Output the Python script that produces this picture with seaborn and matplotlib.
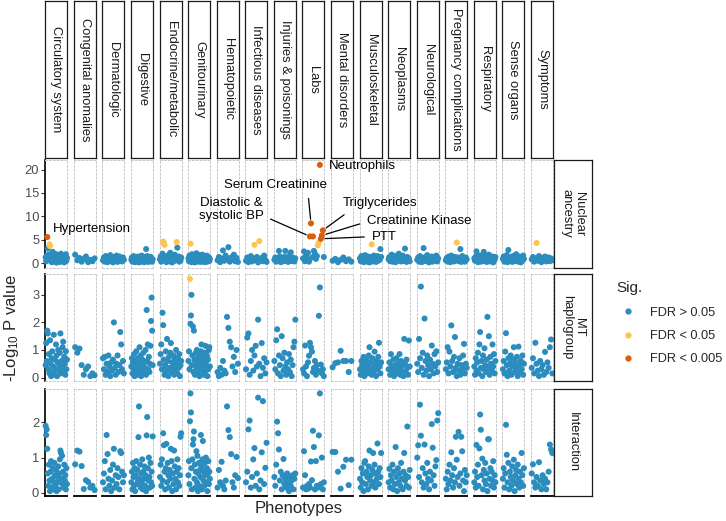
import numpy as np
import pandas as pd
import matplotlib
matplotlib.use('Agg')
import matplotlib.pyplot as plt
from matplotlib.lines import Line2D
from matplotlib.ticker import MultipleLocator
import seaborn as sns

# Phenotype categories (facet columns) and models (facet rows)
categories = ['Circulatory system', 'Congenital anomalies', 'Dermatologic', 'Digestive',
              'Endocrine/metabolic', 'Genitourinary', 'Hematopoietic', 'Infectious diseases',
              'Injuries & poisonings', 'Labs', 'Mental disorders', 'Musculoskeletal',
              'Neoplasms', 'Neurological', 'Pregnancy complications', 'Respiratory',
              'Sense organs', 'Symptoms']
models = ['Nuclear\nancestry', 'MT\nhaplogroup', 'Interaction']

# -log10 p per phenotype, one inner list per category, same phenotype order in every model
nuclear = [
    [1.2, 0.4, 1.6, 5.57, 3.1, 0.9, 1.8, 4.0, 3.65, 0.5, 1.3, 0.2, 1.0, 2.4, 0.7, 1.5, 0.3, 1.1, 0.6, 1.9,
     0.1, 0.8, 1.4, 0.45, 1.7, 0.9, 0.25, 1.2, 2.0, 0.6, 1.0, 0.35, 1.55, 0.8, 0.15, 1.25, 0.7, 1.9, 0.5, 1.1],
    [1.8, 0.6, 1.1, 0.3, 0.9, 1.4, 0.2, 0.7, 0.4, 1.0],
    [0.6, 1.2, 0.3, 1.5, 0.9, 0.2, 1.1, 0.7, 1.7, 0.4, 1.0, 0.15, 1.3, 0.8, 0.5, 1.6, 0.25, 0.9, 1.4, 0.6,
     1.1, 0.35, 1.2, 0.7],
    [0.7, 1.2, 0.3, 0.9, 1.5, 0.5, 1.1, 0.2, 0.8, 1.3, 0.4, 1.0, 0.6, 1.4, 0.15, 0.9, 1.2, 0.5, 0.75, 1.6,
     0.3, 1.0, 0.55, 1.3, 0.2, 0.85, 1.1, 3.0, 0.45, 1.5, 0.7, 0.25, 1.2, 0.9, 0.4, 1.35, 0.6, 1.0, 0.3, 0.8],
    [0.8, 1.4, 0.3, 1.1, 2.0, 4.6, 4.3, 3.9, 0.6, 1.3, 0.2, 0.9, 1.6, 0.5, 1.2, 0.35, 2.2, 0.7, 1.0, 0.15,
     1.5, 0.8, 0.45, 1.8, 0.6, 1.1, 4.5, 3.3, 0.9, 1.4, 0.3, 1.0, 0.55, 1.2],
    [1.0, 0.4, 1.6, 0.8, 4.15, 1.3, 0.2, 1.9, 0.7, 1.1, 0.35, 1.5, 0.9, 0.15, 1.2, 0.6, 2.1, 0.45, 1.0, 1.4,
     0.3, 0.85, 1.7, 0.5, 1.1, 0.25, 1.3, 0.75, 1.8, 0.4, 1.0, 0.6, 1.45, 0.2, 0.9, 1.2, 0.55, 1.6, 0.3, 1.0,
     0.7, 1.25, 0.45, 0.9],
    [0.6, 1.3, 0.2, 1.0, 2.7, 0.5, 1.6, 0.9, 3.4, 0.3, 1.2, 0.7, 1.8, 0.4, 1.1, 0.25],
    [0.5, 1.2, 0.2, 0.9, 1.5, 0.35, 1.0, 3.9, 0.6, 1.3, 0.15, 4.7, 0.8, 1.1, 0.4, 1.6, 0.7, 0.25],
    [0.7, 1.2, 0.3, 1.0, 0.5, 2.6, 1.4, 0.2, 0.9, 1.1, 0.4, 1.3, 2.6, 0.6, 1.0, 0.25, 1.5, 0.8, 2.3, 0.45,
     1.2, 0.7, 0.35, 1.0],
    [1.0, 2.5, 0.4, 1.6, 0.8, 2.2, 0.3, 5.7, 8.5, 1.2, 5.7, 2.6, 2.0, 0.9, 1.5, 3.8, 4.4, 21.0, 5.2, 5.9,
     7.0, 1.3],
    [0.5, 0.9, 0.2, 0.7, 1.2, 0.4, 0.8, 0.3],
    [1.0, 0.4, 1.5, 0.7, 1.2, 0.2, 0.9, 1.7, 0.5, 1.1, 0.3, 1.4, 0.8, 0.15, 1.3, 0.6, 4.0, 1.0, 0.35, 1.6,
     0.8, 1.2, 0.25, 0.9, 1.5, 0.5, 1.1, 0.7, 3.0, 1.3],
    [0.8, 1.3, 0.4, 1.0, 1.8, 0.3, 1.1, 0.6, 1.5, 0.2, 0.9, 1.4, 0.5, 2.0, 0.7, 1.2, 0.35, 1.0, 1.6, 0.45,
     1.1, 3.1, 0.8, 0.25, 1.3, 0.6, 1.0, 0.4],
    [0.7, 1.2, 0.3, 1.5, 0.9, 0.2, 1.1, 3.2, 0.6, 1.3, 0.4, 1.7, 0.8, 0.15, 1.0, 0.5, 1.4, 0.3, 0.9, 1.2,
     0.6, 1.6, 0.35, 1.0],
    [0.6, 1.1, 0.3, 1.4, 0.8, 0.2, 1.6, 0.5, 1.0, 0.35, 1.3, 0.7, 4.4, 1.2, 0.4, 0.9, 3.0, 0.25, 1.5, 0.6,
     1.0, 0.3, 1.2, 0.8],
    [1.0, 0.5, 1.4, 2.5, 0.8, 0.2, 1.2, 0.6, 1.6, 0.3, 1.0, 0.7, 1.3, 2.4, 0.4, 0.9, 1.5, 0.25, 1.1, 0.6,
     1.8, 0.35, 0.9, 1.2, 0.5, 1.4, 0.15, 1.0, 0.7, 1.3],
    [0.9, 1.4, 0.3, 1.1, 0.6, 1.7, 0.2, 2.8, 1.0, 0.5, 1.3, 0.8, 0.25, 1.5, 0.7, 1.1, 0.4, 1.9, 0.6, 1.0,
     0.3, 1.4, 0.8, 0.15, 1.2, 0.5, 1.6, 0.9],
    [0.8, 1.3, 0.3, 1.0, 4.3, 0.5, 1.5, 0.7, 0.2, 1.1, 0.6, 1.4, 0.35, 0.9, 1.2, 0.4, 1.0, 0.6],
]

mt = [
    [0.45, 1.25, 0.6, 1.7, 1.6, 0.3, 0.85, 0.15, 1.35, 0.5, 0.05, 0.7, 0.95, 0.2, 0.4, 1.55, 0.1, 0.65, 0.3, 1.2,
     0.8, 0.05, 0.55, 1.0, 0.25, 0.45, 0.9, 1.6, 0.15, 0.6, 0.35, 1.1, 1.3, 0.2, 0.75, 0.5, 0.1, 0.95, 0.3, 0.65],
    [1.1, 0.9, 1.05, 0.45, 0.1, 0.3, 0.4, 0.05, 0.15, 0.08],
    [0.7, 0.3, 0.75, 0.1, 0.5, 0.2, 0.8, 0.4, 0.05, 0.55, 0.25, 0.65, 2.0, 0.35, 0.1, 0.5, 0.8, 0.2, 0.45, 1.65,
     1.2, 0.3, 0.6, 0.15],
    [0.4, 0.7, 0.15, 0.55, 0.3, 0.85, 0.05, 0.6, 0.25, 0.95, 0.45, 0.1, 0.7, 0.35, 0.2, 1.1, 0.5, 0.8, 0.05, 0.4,
     0.65, 0.25, 0.9, 0.15, 0.55, 0.35, 1.0, 0.1, 2.45, 0.6, 1.2, 0.3, 0.75, 0.2, 0.5, 1.15, 2.05, 2.9, 1.7, 0.45],
    [0.5, 0.85, 1.2, 0.3, 2.35, 1.9, 0.65, 0.1, 0.45, 0.95, 0.25, 1.4, 0.6, 0.05, 0.75, 0.35, 0.9, 1.25, 0.2, 0.55,
     0.4, 0.8, 0.1, 0.65, 0.3, 1.0, 0.5, 0.15, 0.7, 0.35, 0.85, 0.05, 0.45, 0.6],
    [0.6, 0.95, 0.3, 3.58, 1.95, 2.25, 3.0, 0.45, 0.8, 1.85, 0.2, 1.7, 0.65, 0.1, 0.5, 0.9, 0.35, 1.0, 0.15, 0.7,
     0.4, 0.85, 0.05, 0.55, 0.3, 0.95, 1.2, 0.25, 0.6, 0.75, 0.1, 0.45, 0.9, 0.2, 1.15, 0.5, 0.35, 0.8, 0.05, 0.65,
     0.3, 1.0, 1.1, 0.4],
    [0.2, 0.05, 0.35, 0.1, 0.6, 0.25, 0.15, 2.2, 1.8, 1.3, 1.1, 0.4, 0.75, 0.2, 1.0, 0.5],
    [0.3, 1.45, 1.6, 0.1, 0.6, 1.0, 0.25, 0.8, 1.15, 0.4, 2.1, 0.5, 0.05, 1.25, 0.35, 0.7, 0.15, 0.55],
    [0.6, 0.3, 1.35, 1.75, 0.15, 0.8, 0.45, 0.05, 1.5, 0.7, 0.25, 0.9, 0.4, 0.1, 0.55, 0.3, 0.85, 0.2, 0.65, 0.05,
     0.45, 1.1, 1.3, 2.1],
    [0.3, 0.15, 1.16, 0.4, 0.05, 0.55, 0.79, 1.26, 1.1, 0.94, 0.2, 0.35, 0.6, 0.1, 0.45, 0.25, 2.24, 3.27, 0.47, 0.15,
     0.3, 0.05],
    [0.37, 0.52, 0.55, 0.97, 0.6, 0.6, 0.2, 0.6],
    [0.3, 0.1, 0.6, 0.45, 0.2, 0.75, 0.05, 0.5, 0.3, 0.65, 0.15, 0.4, 0.8, 1.1, 0.25, 0.55, 0.1, 0.7, 0.35, 0.2,
     0.94, 0.45, 0.05, 0.6, 0.3, 0.75, 1.26, 0.4, 0.15, 0.55],
    [0.3, 0.55, 0.1, 0.85, 0.4, 0.2, 0.65, 0.05, 0.45, 0.3, 0.7, 0.15, 0.5, 0.35, 0.85, 0.1, 0.6, 0.25, 0.45, 0.05,
     1.4, 0.5, 0.2, 0.65, 0.35, 0.1, 1.34, 0.4],
    [0.5, 0.2, 1.4, 0.7, 3.3, 0.35, 0.9, 0.1, 2.14, 0.6, 0.25, 0.8, 0.45, 0.05, 0.65, 0.3, 1.16, 0.5, 0.15, 0.85,
     0.4, 0.95, 0.2, 0.55],
    [0.3, 0.55, 1.1, 0.15, 0.94, 0.4, 1.89, 0.6, 0.2, 0.75, 1.47, 0.35, 0.05, 0.5, 0.25, 0.7, 0.1, 0.45, 0.3, 0.8,
     1.22, 0.15, 0.5, 0.35],
    [0.4, 0.1, 0.7, 0.25, 0.55, 0.9, 0.15, 1.2, 1.65, 0.35, 0.6, 0.05, 0.8, 0.3, 1.06, 0.45, 0.2, 0.65, 2.2, 0.35,
     1.5, 0.1, 0.75, 0.5, 0.25, 1.2, 0.4, 0.85, 0.15, 0.6],
    [0.3, 0.6, 0.15, 0.94, 1.61, 0.45, 0.05, 0.7, 0.25, 0.5, 0.8, 0.1, 0.4, 0.65, 1.1, 0.2, 0.55, 0.35, 0.75, 0.05,
     1.12, 0.45, 0.2, 0.6, 0.3, 0.8, 0.1, 0.5],
    [0.35, 0.7, 0.15, 1.26, 0.5, 0.25, 0.05, 0.6, 0.3, 0.45, 0.1, 0.93, 0.2, 0.55, 0.35, 1.1, 1.38, 0.15],
]

interaction = [
    [1.9, 1.64, 1.8, 1.25, 0.55, 0.2, 0.8, 0.35, 0.05, 0.6, 0.9, 0.15, 0.4, 0.7, 0.1, 0.3, 0.85, 0.5, 0.2, 0.65,
     0.05, 0.45, 0.3, 0.75, 0.1, 0.55, 0.95, 1.2, 1.13, 0.4, 1.05, 0.25, 0.6, 0.15, 0.8, 0.35, 0.5, 0.1, 0.7, 0.25],
    [0.81, 1.2, 1.17, 0.76, 0.11, 0.36, 0.31, 0.15, 0.2, 0.08],
    [0.3, 0.55, 0.9, 0.1, 1.64, 1.1, 0.4, 0.2, 0.65, 0.05, 0.35, 0.8, 1.25, 0.15, 0.5, 0.25, 0.7, 0.45, 0.1, 1.18,
     1.13, 0.6, 0.3, 0.5],
    [0.3, 0.6, 0.1, 0.85, 0.45, 0.2, 0.7, 0.05, 0.5, 0.9, 0.25, 0.65, 0.35, 1.58, 2.45, 0.4, 0.8, 0.15, 0.55, 0.3,
     0.95, 0.1, 0.6, 0.4, 0.75, 0.2, 0.5, 0.05, 1.63, 2.15, 0.7, 0.35, 1.0, 0.45, 0.15, 0.85, 0.3, 0.6, 0.2, 1.6],
    [0.45, 0.8, 0.2, 0.95, 0.35, 1.69, 1.35, 0.6, 0.1, 0.7, 1.39, 0.3, 0.85, 0.5, 0.15, 0.65, 0.4, 1.25, 0.9, 0.05,
     0.55, 0.25, 1.2, 0.75, 0.4, 0.1, 0.6, 0.95, 0.3, 0.7, 0.2, 0.5, 1.59, 1.69],
    [0.5, 0.9, 0.25, 2.03, 2.82, 2.28, 0.7, 0.1, 0.95, 1.37, 1.52, 1.74, 0.4, 0.8, 0.15, 0.6, 1.18, 0.3, 1.05, 0.05,
     0.55, 0.85, 0.2, 0.65, 0.45, 1.64, 0.75, 0.1, 0.95, 1.47, 0.35, 0.6, 0.2, 0.85, 0.5, 1.0, 0.3, 0.7, 0.05, 0.55,
     0.9, 0.25, 0.6, 0.4],
    [0.15, 0.65, 0.3, 0.88, 0.2, 0.1, 0.35, 2.45, 1.78, 1.58, 1.1, 0.3, 0.15, 0.5, 1.02, 0.42],
    [0.3, 0.6, 1.8, 2.05, 0.15, 0.45, 0.95, 1.27, 0.2, 0.55, 2.7, 0.1, 0.35, 1.15, 2.6, 0.25, 0.71, 1.42],
    [0.45, 0.2, 0.8, 2.02, 1.69, 1.23, 0.35, 0.6, 0.1, 0.5, 0.96, 0.25, 0.4, 0.15, 0.55, 0.3, 0.05, 0.45, 0.2, 0.35,
     0.5, 0.1, 0.4, 0.55],
    [0.15, 1.18, 0.5, 0.1, 0.2, 0.12, 0.25, 0.15, 0.89, 0.36, 1.76, 1.3, 0.1, 0.9, 0.2, 0.15, 1.63, 2.82, 0.25, 1.0,
     0.1, 0.3],
    [1.16, 1.16, 0.6, 0.12, 0.74, 0.94, 0.22, 0.94],
    [0.4, 0.15, 0.7, 0.3, 0.55, 0.05, 0.85, 0.9, 0.25, 0.6, 0.45, 0.1, 0.75, 1.2, 0.35, 0.5, 0.2, 0.65, 1.13, 0.3,
     0.8, 0.15, 0.55, 0.4, 1.4, 0.6, 0.25, 0.7, 0.45, 1.13],
    [0.3, 0.68, 0.15, 0.5, 0.35, 0.8, 0.1, 0.6, 0.25, 1.3, 0.45, 0.05, 0.7, 0.3, 0.55, 0.2, 0.85, 0.4, 0.1, 0.6,
     1.13, 0.35, 0.5, 0.2, 1.88, 0.45, 0.15, 0.65],
    [1.0, 1.35, 0.45, 2.5, 1.62, 0.3, 0.7, 0.15, 1.37, 0.55, 0.25, 0.85, 0.4, 0.1, 0.6, 0.35, 1.95, 1.28, 0.5, 0.2,
     0.75, 0.93, 2.05, 2.26],
    [0.4, 0.1, 0.6, 0.25, 0.8, 0.35, 1.15, 0.5, 0.15, 0.7, 0.3, 1.59, 0.94, 0.45, 1.73, 0.2, 0.55, 1.59, 1.18, 0.35,
     0.05, 0.65, 0.3, 0.5],
    [0.3, 0.6, 0.15, 1.36, 0.45, 0.8, 0.2, 1.26, 2.22, 1.79, 0.5, 0.97, 0.1, 0.65, 0.35, 0.85, 0.25, 0.55, 0.05, 1.52,
     1.52, 0.4, 0.7, 0.2, 0.6, 0.35, 0.9, 0.15, 0.5, 0.3],
    [0.4, 0.7, 0.15, 0.55, 1.93, 1.08, 0.3, 0.85, 0.1, 0.6, 0.45, 0.2, 0.75, 0.35, 0.94, 0.05, 0.5, 0.65, 0.25, 0.8,
     0.4, 0.15, 0.6, 0.3, 1.13, 0.5, 0.2, 0.7],
    [0.55, 0.81, 0.3, 0.15, 0.45, 0.2, 0.87, 0.35, 0.1, 0.5, 0.25, 0.4, 0.1, 0.3, 0.6, 1.37, 1.23, 1.13],
]

# Labelled hits in the nuclear-ancestry model (category index, 1-based phenotype index)
label_text = ['Hypertension', 'Neutrophils', 'Serum Creatinine', 'Diastolic &\nsystolic BP',
              'Triglycerides', 'Creatinine Kinase', 'PTT']
label_cat = [0, 9, 9, 9, 9, 9, 9]
label_idx = [4, 18, 9, 8, 21, 20, 19]

sig_order = ['FDR > 0.05', 'FDR < 0.05', 'FDR < 0.005']
sig_colors = ['#2b8cbe', '#fec44f', '#d95f0e']

sns.set_theme(style='white')
plt.rcParams['font.family'] = ['Liberation Sans', 'DejaVu Sans']
plt.rcParams['mathtext.default'] = 'regular'

rows = []
for model, values in zip(models, [nuclear, mt, interaction]):
    for cat, vals in zip(categories, values):
        for i, v in enumerate(vals, start=1):
            rows.append((model, cat, i, v))
df = pd.DataFrame(rows, columns=['model', 'category', 'idx', 'logp'])
df['sig'] = np.where(df['logp'] >= 5, sig_order[2],
                     np.where(df['logp'] >= 3.5, sig_order[1], sig_order[0]))
df['rank'] = df['sig'].map({s: k for k, s in enumerate(sig_order)})
df = df.sort_values('rank')
palette = dict(zip(sig_order, sig_colors))

W, H = 726, 521
fig = plt.figure(figsize=(W / 100, H / 100), dpi=100)


def px_axes(x0, y0, x1, y1):
    return fig.add_axes([x0 / W, 1 - y1 / H, (x1 - x0) / W, (y1 - y0) / H])


col_x0, col_step, col_w = 45.3, 28.57, 22.0
row_y = [(160, 267.5), (274, 381), (388.5, 496)]
tick_step = [5, 1, 1]
strip_color = '#1a1a1a'

axes = [[None] * len(categories) for _ in models]
for r, model in enumerate(models):
    sub_model = df[df['model'] == model]
    lo, hi = sub_model['logp'].min(), sub_model['logp'].max()
    pad = 0.05 * (hi - lo)
    for c, cat in enumerate(categories):
        x0 = col_x0 + c * col_step
        y0, y1 = row_y[r]
        ax = px_axes(x0, y0, x0 + col_w, y1)
        ax.patch.set_alpha(0)
        sub = sub_model[sub_model['category'] == cat]
        sns.scatterplot(data=sub, x='idx', y='logp', hue='sig', palette=palette,
                        hue_order=sig_order, s=19, linewidth=0, legend=False,
                        ax=ax, clip_on=False, zorder=3)
        n = len(sub)
        ax.set_xlim(0.4, n + 0.6)
        ax.set_ylim(lo - pad, hi + pad)
        ax.set_xticks([])
        ax.set_xlabel('')
        ax.set_ylabel('')
        ax.yaxis.set_major_locator(MultipleLocator(tick_step[r]))
        for sp in ax.spines.values():
            sp.set_linestyle((0, (2, 2)))
            sp.set_color('#c8c8c8')
            sp.set_linewidth(0.7)
        if c == 0:
            ax.spines['left'].set_linestyle('-')
            ax.spines['left'].set_color('black')
            ax.spines['left'].set_linewidth(1.2)
            ax.tick_params(axis='y', left=True, length=2.8, width=0.8, color='#333333',
                           labelsize=9.3, labelcolor='#4d4d4d', pad=1.6)
        else:
            ax.tick_params(axis='y', left=False, labelleft=False)
        if r == 2:
            ax.spines['bottom'].set_linestyle('-')
            ax.spines['bottom'].set_color('black')
            ax.spines['bottom'].set_linewidth(1.3)
        axes[r][c] = ax

# column strips
for c, cat in enumerate(categories):
    x0 = col_x0 + c * col_step
    sax = px_axes(x0, 1, x0 + col_w, 158)
    sax.set_xticks([])
    sax.set_yticks([])
    for sp in sax.spines.values():
        sp.set_color(strip_color)
        sp.set_linewidth(0.9)
    sax.text(0.5, 0.5, cat, rotation=-90, ha='center', va='center', fontsize=9.3,
             color='#1a1a1a', transform=sax.transAxes)

# row strips
for r, model in enumerate(models):
    y0, y1 = row_y[r]
    sax = px_axes(553.5, y0, 592, y1)
    sax.set_xticks([])
    sax.set_yticks([])
    for sp in sax.spines.values():
        sp.set_color(strip_color)
        sp.set_linewidth(0.9)
    sax.text(0.5, 0.5, model, rotation=-90, ha='center', va='center', fontsize=9.3,
             color='#1a1a1a', transform=sax.transAxes, linespacing=0.95)

# labelled hits
label_pos = [(53.3, 229), (329.3, 166), (275.9, 185), (231, 209.5), (343, 203), (367, 220.5), (371.7, 236.7)]
label_ha = ['left', 'left', 'center', 'center', 'left', 'left', 'left']
label_rel = [None, None, (0.81, 0.0), (1.0, 0.25), (0.12, 0.0), (0.0, 0.4), (0.0, 0.5)]
for k, text in enumerate(label_text):
    ax = axes[0][label_cat[k]]
    ax.set_zorder(5)
    yv = nuclear[label_cat[k]][label_idx[k] - 1]
    px, py = label_pos[k]
    arrow = None
    if label_rel[k] is not None:
        arrow = dict(arrowstyle='-', color='black', lw=0.9, shrinkA=3, shrinkB=3,
                     relpos=label_rel[k])
    ax.annotate(text, xy=(label_idx[k], yv), xytext=(px, H - py), textcoords='figure pixels',
                ha=label_ha[k], va='center', fontsize=9.5, color='black',
                multialignment='center', arrowprops=arrow, annotation_clip=False)

fig.text(299 / W, 1 - 508 / H, 'Phenotypes', ha='center', va='center', fontsize=12)
fig.text(12 / W, 1 - 328 / H, '-Log$_{10}$ P value', ha='center', va='center',
         rotation=90, fontsize=12)

handles = [Line2D([], [], marker='o', ls='', color=col, markersize=3.5) for col in sig_colors]
leg = fig.legend(handles, sig_order, title='Sig.', loc='upper left',
                 bbox_to_anchor=(616 / W, 1 - 281 / H), frameon=False, fontsize=9.2,
                 title_fontsize=11, handlelength=1.9, handletextpad=0.8, labelspacing=0.9,
                 borderpad=0, borderaxespad=0)
leg._legend_box.align = 'left'

fig.savefig('out.png', dpi=100, facecolor='white')
